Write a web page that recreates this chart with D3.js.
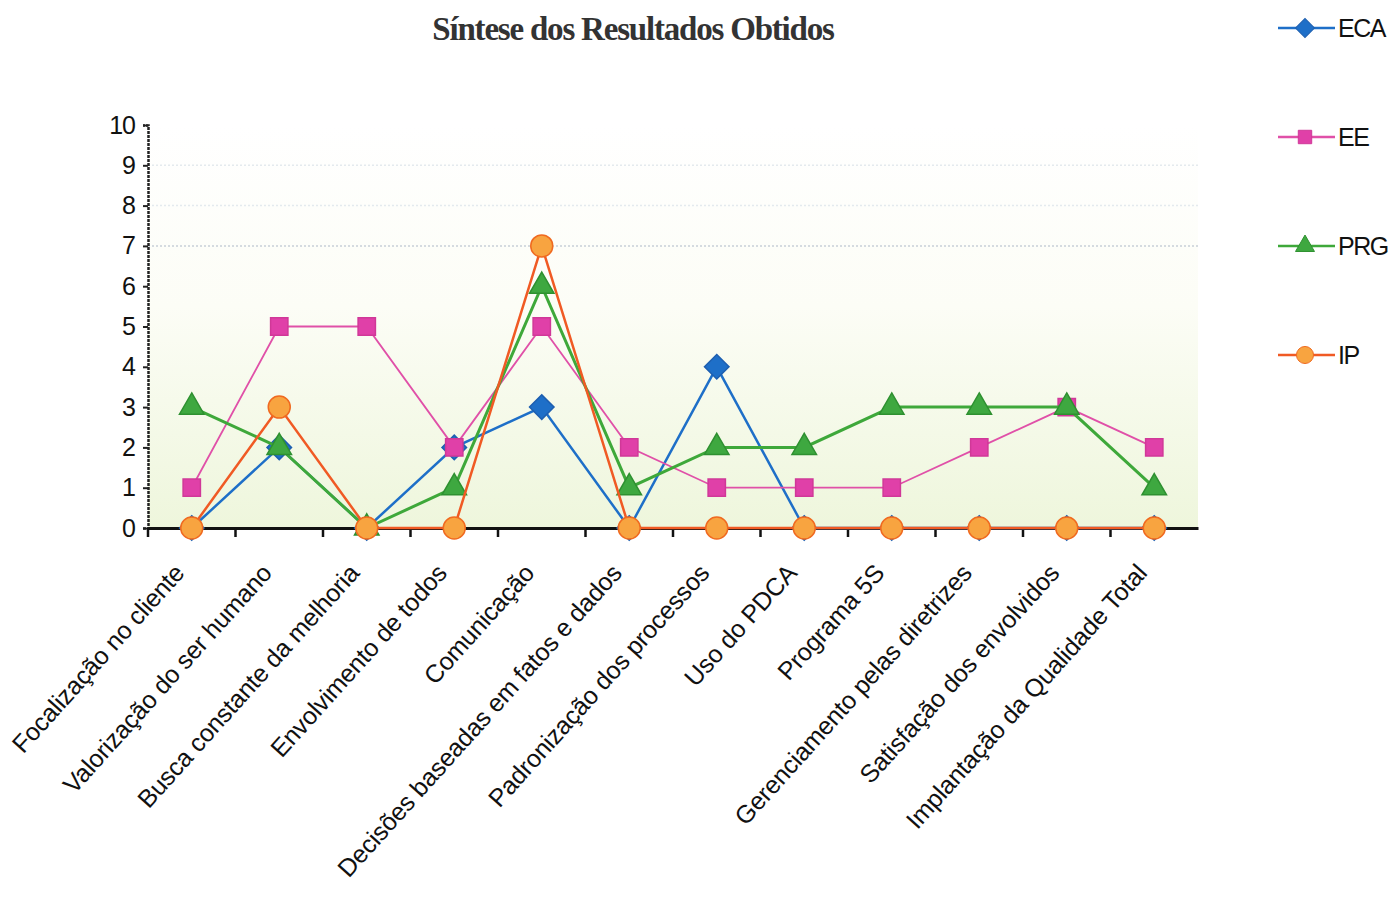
<!DOCTYPE html>
<html>
<head>
<meta charset="utf-8">
<script src="https://cdn.jsdelivr.net/npm/d3@7"></script>
<style>
  body { margin: 0; background: #fff; }
  text { font-family: "Liberation Sans", Arial, sans-serif; }
</style>
</head>
<body>
<div id="display"></div>
<script>
// categories and series
var categories = [
  "Focalização no cliente",
  "Valorização do ser humano",
  "Busca constante da melhoria",
  "Envolvimento de todos",
  "Comunicação",
  "Decisões baseadas em fatos e dados",
  "Padronização dos processos",
  "Uso do PDCA",
  "Programa 5S",
  "Gerenciamento pelas diretrizes",
  "Satisfação dos envolvidos",
  "Implantação da Qualidade Total"
];
var ECA = [0, 2, 0, 2, 3, 0, 4, 0, 0, 0, 0, 0];
var EE  = [1, 5, 5, 2, 5, 2, 1, 1, 1, 2, 3, 2];
var PRG = [3, 2, 0, 1, 6, 1, 2, 2, 3, 3, 3, 1];
var IP  = [0, 3, 0, 0, 7, 0, 0, 0, 0, 0, 0, 0];
var seriesNames = ["ECA", "EE", "PRG", "IP"];
var yTicks = [0, 1, 2, 3, 4, 5, 6, 7, 8, 9, 10];

var width = 1392, height = 899;
var margin = {top: 125, left: 148, right: 1198, bottom: 528};

var svG = d3.select("#display")
  .append("svg")
    .attr("width", width)
    .attr("height", height);

// background gradient of plot area
var defs = svG.append("defs");
var grad = defs.append("linearGradient").attr("id", "bg")
  .attr("x1", 0).attr("y1", 0).attr("x2", 0).attr("y2", 1);
grad.append("stop").attr("offset", "0%").attr("stop-color", "#ffffff");
grad.append("stop").attr("offset", "45%").attr("stop-color", "#fcfdf6");
grad.append("stop").attr("offset", "100%").attr("stop-color", "#eef6dc");

var x = d3.scaleBand()
    .domain(categories)
    .range([margin.left, margin.right]);
var y = d3.scaleLinear()
    .domain([0, 10])
    .range([margin.bottom, margin.top]);

svG.append("rect")
  .attr("x", margin.left).attr("y", margin.top)
  .attr("width", margin.right - margin.left)
  .attr("height", margin.bottom - margin.top)
  .attr("fill", "url(#bg)");

// faint gridlines
svG.append("g").selectAll("line")
  .data([7, 8, 9])
  .enter().append("line")
    .attr("x1", margin.left).attr("x2", margin.right)
    .attr("y1", function(d){ return y(d) })
    .attr("y2", function(d){ return y(d) })
    .attr("stroke", function(d){ return d == 7 ? "#c8d0d8" : "#e4eaee" })
    .attr("stroke-width", 1.5)
    .attr("stroke-dasharray", "2,2");

// title
svG.append("text")
  .attr("x", 633).attr("y", 40)
  .attr("text-anchor", "middle")
  .style("font-family", "'Liberation Serif', 'Times New Roman', serif")
  .style("font-weight", "bold")
  .style("font-size", "33px")
  .style("letter-spacing", "-1.2px")
  .attr("fill", "#333")
  .text("Síntese dos Resultados Obtidos");

// Y axis
var yAxis = svG.append("g")
  .attr("transform", "translate(" + margin.left + ",0)")
  .call(d3.axisLeft(y).tickValues(yTicks).tickSize(5).tickPadding(8));
yAxis.select(".domain").attr("stroke", "#222").attr("stroke-width", 2.5).attr("stroke-dasharray", "3,1");
yAxis.selectAll(".tick line").attr("stroke", "#222").attr("stroke-width", 2);
yAxis.selectAll("text")
  .style("font-size", "25px")
  .style("letter-spacing", "-1px")
  .attr("fill", "#111");

// X axis
var xAxis = svG.append("g")
  .attr("transform", "translate(0," + margin.bottom + ")")
  .call(d3.axisBottom(x).tickSize(0).tickFormat(""));
xAxis.select(".domain").attr("stroke", "#111").attr("stroke-width", 3);
// tick marks at band boundaries
svG.append("g").selectAll("line")
  .data(categories)
  .enter().append("line")
    .attr("x1", function(d){ return x(d) })
    .attr("x2", function(d){ return x(d) })
    .attr("y1", margin.bottom).attr("y2", margin.bottom + 9)
    .attr("stroke", "#111").attr("stroke-width", 2.5);

// category labels
svG.append("g").selectAll("text")
  .data(categories)
  .enter().append("text")
    .attr("transform", function(d){
      return "translate(" + (x(d) + x.bandwidth() / 2 - 6) + "," + (margin.bottom + 46) + ") rotate(-48)";
    })
    .attr("text-anchor", "end")
    .style("font-size", "25px")
    .style("letter-spacing", "-0.2px")
    .attr("fill", "#111")
    .text(function(d){ return d });

var styles = {
  ECA: {line: "#1e6fc8", lw: 2.5, fill: "#1e6fc8", stroke: "#1e5fb0", shape: d3.symbolSquare, size: 300, rot: 45},
  EE:  {line: "#e050a8", lw: 1.8, fill: "#e040a8", stroke: "#d03898", shape: d3.symbolSquare, size: 300, rot: 0},
  PRG: {line: "#3ea83a", lw: 3, fill: "#3ea840", stroke: "#2e9030", shape: d3.symbolTriangle, size: 260, rot: 0},
  IP:  {line: "#f05a24", lw: 2.5, fill: "#f8a440", stroke: "#f06a20", shape: d3.symbolCircle, size: 380, rot: 0}
};
var seriesData = {ECA: ECA, EE: EE, PRG: PRG, IP: IP};

var line = d3.line()
  .x(function(d, i){ return x(categories[i]) + x.bandwidth() / 2 })
  .y(function(d){ return y(d) });

seriesNames.forEach(function(name) {
  var s = styles[name], vals = seriesData[name];
  svG.append("path")
    .attr("d", line(vals))
    .attr("fill", "none")
    .attr("stroke", s.line)
    .attr("stroke-width", s.lw);
  svG.append("g").selectAll("path")
    .data(vals)
    .enter().append("path")
      .attr("d", d3.symbol().type(s.shape).size(s.size))
      .attr("transform", function(d, i){
        return "translate(" + (x(categories[i]) + x.bandwidth() / 2) + "," + y(d) + ") rotate(" + s.rot + ")";
      })
      .attr("fill", s.fill)
      .attr("stroke", s.stroke)
      .attr("stroke-width", 1.5);
});

// legend
var legend = svG.append("g").selectAll("g")
  .data(seriesNames)
  .enter().append("g")
    .attr("transform", function(d, i){ return "translate(1278," + (28 + i * 109) + ")" });
legend.append("line")
  .attr("x1", 0).attr("x2", 57)
  .attr("stroke", function(d){ return styles[d].line })
  .attr("stroke-width", 2.5);
legend.append("path")
  .attr("d", function(d){ return d3.symbol().type(styles[d].shape).size(styles[d].size * 0.6)() })
  .attr("transform", function(d){ return "translate(27,0) rotate(" + styles[d].rot + ")" })
  .attr("fill", function(d){ return styles[d].fill })
  .attr("stroke", function(d){ return styles[d].stroke });
legend.append("text")
  .attr("x", 60).attr("dy", "0.35em")
  .style("font-size", "25px")
  .style("letter-spacing", "-1.5px")
  .attr("fill", "#111")
  .text(function(d){ return d });
</script>
</body>
</html>
